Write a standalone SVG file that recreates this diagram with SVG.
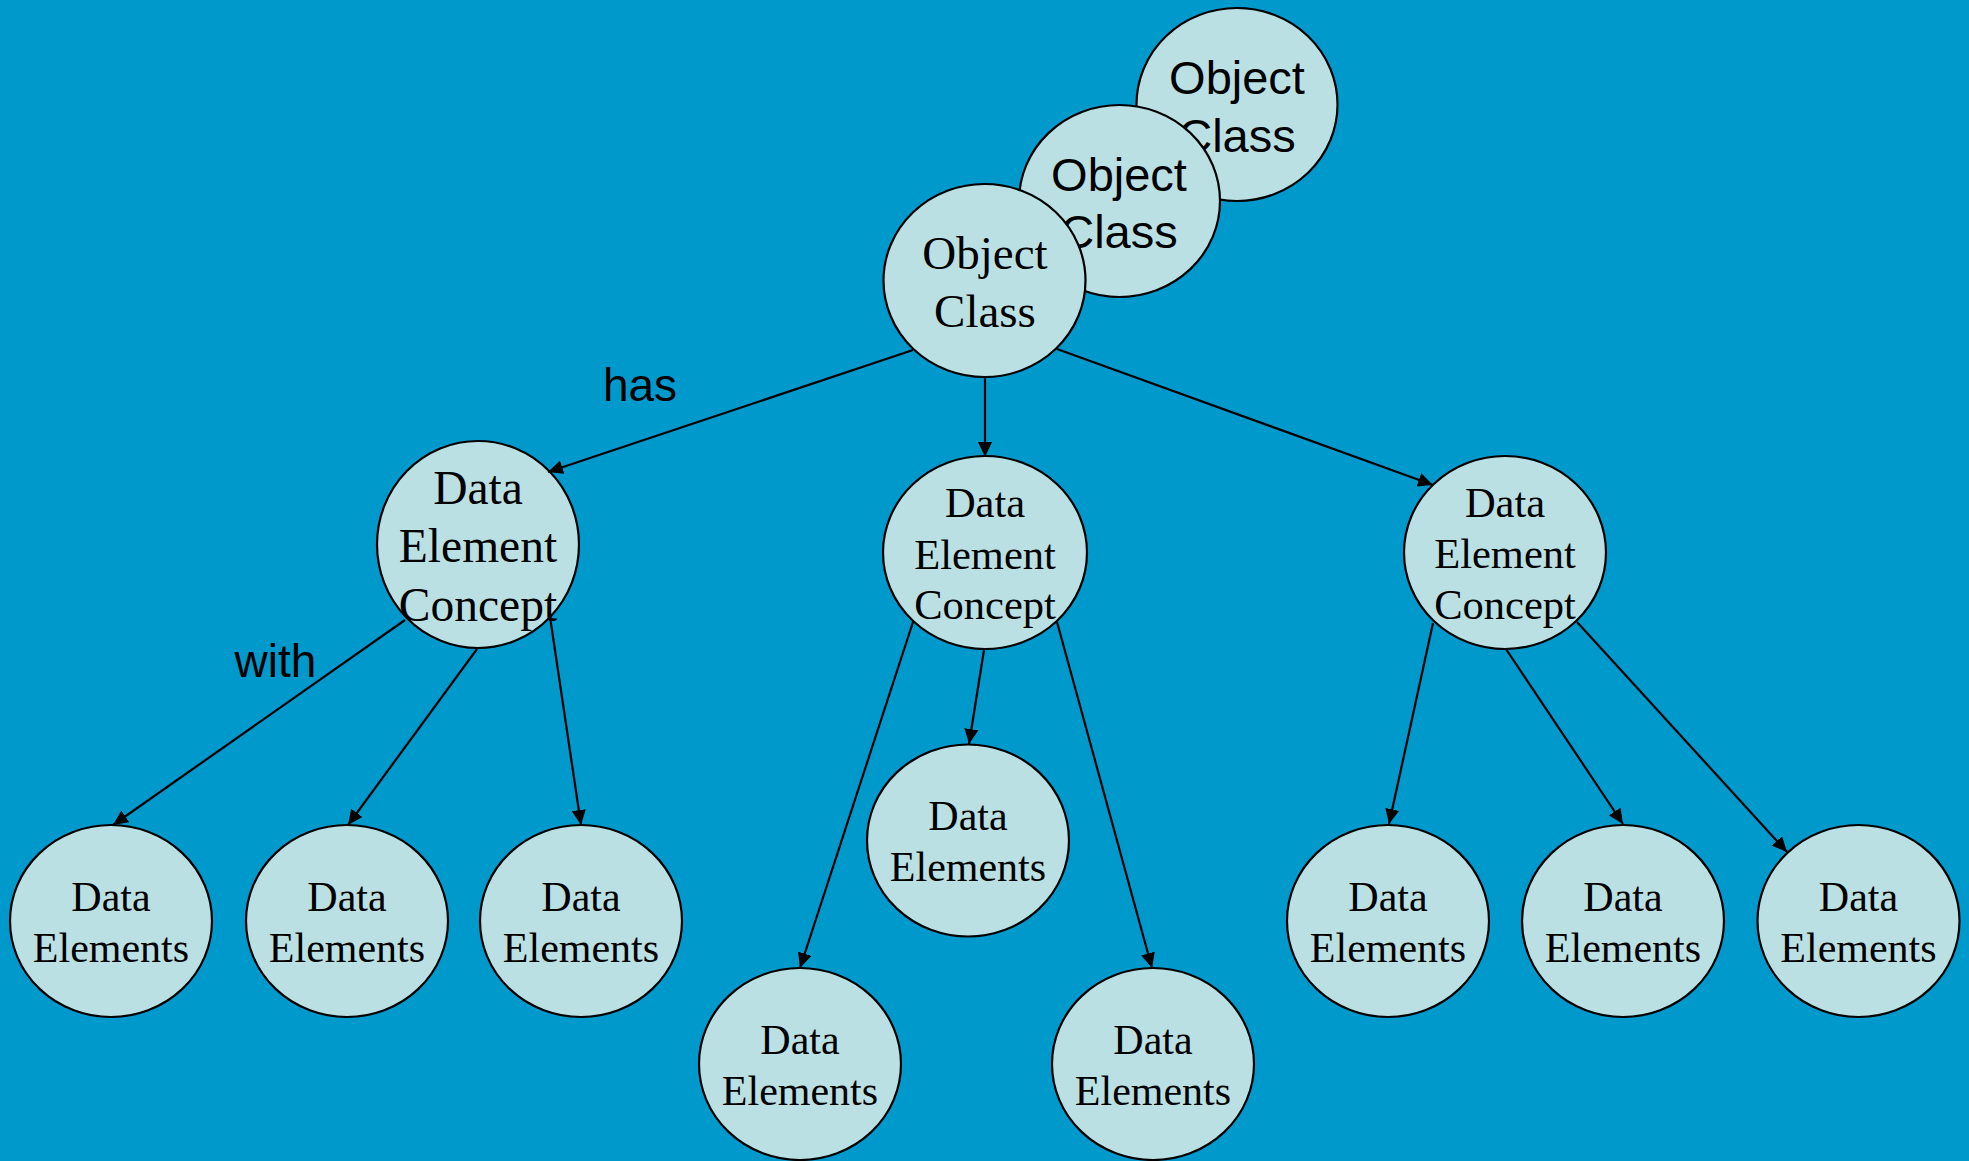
<svg xmlns="http://www.w3.org/2000/svg" width="1969" height="1161" viewBox="0 0 1969 1161">
<style>
.n{fill:#BBE0E3;stroke:#000;stroke-width:2.2}
.s{font-family:"Liberation Serif","Times New Roman",serif;fill:#000;text-anchor:middle}
.a{font-family:"Liberation Sans",Arial,sans-serif;fill:#000;text-anchor:middle}
.e{stroke:#000;stroke-width:2.2;fill:none;marker-end:url(#ah)}
</style>
<defs>
<marker id="ah" markerUnits="userSpaceOnUse" markerWidth="16" markerHeight="14" refX="15" refY="7" orient="auto">
<path d="M0,0 L15,7 L0,14 z" fill="#000"/>
</marker>
</defs>
<rect width="1969" height="1161" fill="#0099CC"/>
<g id="oc3"><ellipse class="n" cx="1237" cy="104.5" rx="100.5" ry="96.5"/><text class="a" font-size="47" x="1237" y="94">Object</text><text class="a" font-size="47" x="1237" y="152">Class</text></g>
<g id="oc2"><ellipse class="n" cx="1119.5" cy="201" rx="100.5" ry="96"/><text class="a" font-size="47" x="1119" y="191">Object</text><text class="a" font-size="47" x="1119" y="248">Class</text></g>
<g id="oc1"><ellipse class="n" cx="984.5" cy="280.5" rx="101" ry="96.5"/><text class="s" font-size="47" x="985" y="269">Object</text><text class="s" font-size="47" x="985" y="327">Class</text></g>
<g id="dec1"><ellipse class="n" cx="478" cy="544.5" rx="101" ry="103.5"/><text class="s" font-size="47.5" x="478" y="504">Data</text><text class="s" font-size="47.5" x="478" y="562">Element</text><text class="s" font-size="47.5" x="478" y="621">Concept</text></g>
<g id="dec2"><ellipse class="n" cx="985" cy="552.5" rx="102" ry="96.5"/><text class="s" font-size="42.5" x="985" y="517">Data</text><text class="s" font-size="42.5" x="985" y="569">Element</text><text class="s" font-size="42.5" x="985" y="619">Concept</text></g>
<g id="dec3"><ellipse class="n" cx="1505" cy="552.5" rx="101" ry="96.5"/><text class="s" font-size="42.5" x="1505" y="517">Data</text><text class="s" font-size="42.5" x="1505" y="568">Element</text><text class="s" font-size="42.5" x="1505" y="619">Concept</text></g>
<g id="de1"><ellipse class="n" cx="111" cy="921" rx="101" ry="96"/><text class="s" font-size="42" x="111" y="911">Data</text><text class="s" font-size="42" x="111" y="962">Elements</text></g>
<g id="de2"><ellipse class="n" cx="347" cy="921" rx="101" ry="96"/><text class="s" font-size="42" x="347" y="911">Data</text><text class="s" font-size="42" x="347" y="962">Elements</text></g>
<g id="de3"><ellipse class="n" cx="581" cy="921" rx="101" ry="96"/><text class="s" font-size="42" x="581" y="911">Data</text><text class="s" font-size="42" x="581" y="962">Elements</text></g>
<g id="de4"><ellipse class="n" cx="968" cy="840.5" rx="101" ry="96"/><text class="s" font-size="42" x="968" y="830">Data</text><text class="s" font-size="42" x="968" y="881">Elements</text></g>
<g id="de5"><ellipse class="n" cx="800" cy="1064" rx="101" ry="96"/><text class="s" font-size="42" x="800" y="1054">Data</text><text class="s" font-size="42" x="800" y="1105">Elements</text></g>
<g id="de6"><ellipse class="n" cx="1153" cy="1064" rx="101" ry="96"/><text class="s" font-size="42" x="1153" y="1054">Data</text><text class="s" font-size="42" x="1153" y="1105">Elements</text></g>
<g id="de7"><ellipse class="n" cx="1388" cy="921" rx="101" ry="96"/><text class="s" font-size="42" x="1388" y="911">Data</text><text class="s" font-size="42" x="1388" y="962">Elements</text></g>
<g id="de8"><ellipse class="n" cx="1623" cy="921" rx="101" ry="96"/><text class="s" font-size="42" x="1623" y="911">Data</text><text class="s" font-size="42" x="1623" y="962">Elements</text></g>
<g id="de9"><ellipse class="n" cx="1858.5" cy="921" rx="101" ry="96"/><text class="s" font-size="42" x="1858.5" y="911">Data</text><text class="s" font-size="42" x="1858.5" y="962">Elements</text></g>
<g id="connectors">
<line class="e" x1="913" y1="350" x2="548" y2="472"/>
<line class="e" x1="985" y1="378" x2="985" y2="457"/>
<line class="e" x1="1057" y1="349" x2="1433" y2="485"/>
<line class="e" x1="405" y1="620" x2="113" y2="825"/>
<line class="e" x1="477" y1="649" x2="348" y2="825"/>
<line class="e" x1="549" y1="610" x2="581" y2="825"/>
<line class="e" x1="984" y1="650" x2="969" y2="744"/>
<line class="e" x1="913" y1="622" x2="800" y2="968"/>
<line class="e" x1="1057" y1="622" x2="1152" y2="968"/>
<line class="e" x1="1433" y1="623" x2="1389" y2="824"/>
<line class="e" x1="1506" y1="649" x2="1623" y2="824"/>
<line class="e" x1="1577" y1="622" x2="1787" y2="852"/>
<text class="a" font-size="46" x="640" y="401">has</text>
<text class="a" font-size="46" x="275.5" y="677">with</text>
</g>
</svg>
